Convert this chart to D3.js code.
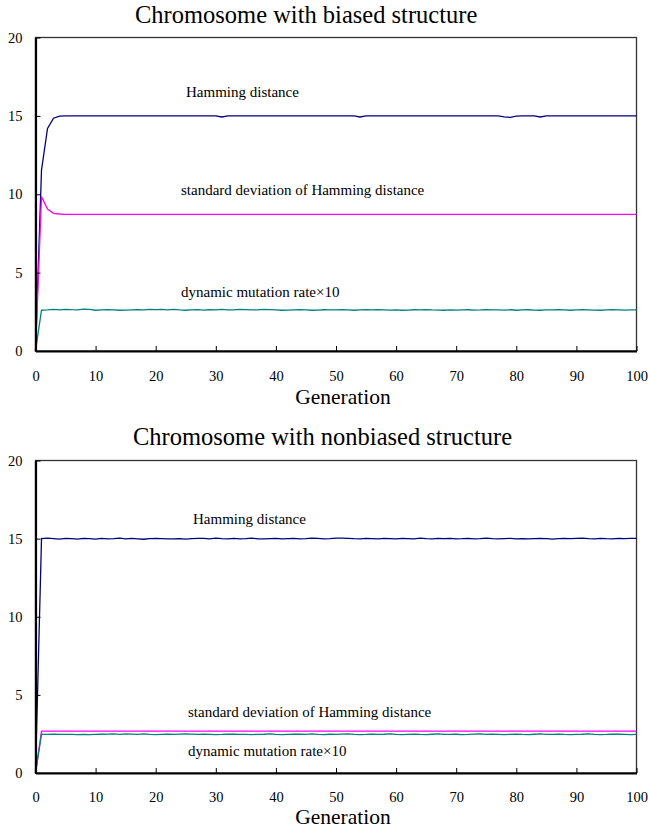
<!DOCTYPE html>
<html>
<head>
<meta charset="utf-8">
<script src="https://cdn.jsdelivr.net/npm/d3@7"></script>
<style>
html,body{margin:0;padding:0;background:#fff;}
text{font-family:"Liberation Serif","Times New Roman",serif;fill:#000;}
</style>
</head>
<body>
<svg id="chart" width="648" height="828"></svg>
<script>
// ---------- data ----------
const generations = d3.range(0, 101);
const xTicks = [0,10,20,30,40,50,60,70,80,90,100];
const yTicks = [0,5,10,15,20];
const titles = ["Chromosome with biased structure", "Chromosome with nonbiased structure"];
const seriesNames = ["Hamming distance", "standard deviation of Hamming distance", "dynamic mutation rate×10"];

const hammingBiased = [0,11.55,14.2,14.85,14.98,15,15,15,15,15,
  15,15,15,15,15,15,15,15,15,15,
  15,15,15,15,15,15,15,15,15,15,
  15,14.93,15,15,15,15,15,15,15,15,
  15,15,15,15,15,15,15,15,15,15,
  15,15,15,15,14.93,15,15,15,15,15,
  15,15,15,15,15,15,15,15,15,15,
  15,15,15,15,15,15,15,15,14.93,14.9,
  14.98,15,15,15,14.93,15,15,15,15,15,
  15,15,15,15,15,15,15,15,15,15,15];
const sdBiased = [0,9.85,9.05,8.78,8.74,8.72,8.72,8.72,8.72,8.72,
  8.72,8.72,8.72,8.72,8.72,8.72,8.72,8.72,8.72,8.72,
  8.72,8.72,8.72,8.72,8.72,8.72,8.72,8.72,8.72,8.72,
  8.72,8.72,8.72,8.72,8.72,8.72,8.72,8.72,8.72,8.72,
  8.72,8.72,8.72,8.72,8.72,8.72,8.72,8.72,8.72,8.72,
  8.72,8.72,8.72,8.72,8.72,8.72,8.72,8.72,8.72,8.72,
  8.72,8.72,8.72,8.72,8.72,8.72,8.72,8.72,8.72,8.72,
  8.72,8.72,8.72,8.72,8.72,8.72,8.72,8.72,8.72,8.72,
  8.72,8.72,8.72,8.72,8.72,8.72,8.72,8.72,8.72,8.72,
  8.72,8.72,8.72,8.72,8.72,8.72,8.72,8.72,8.72,8.72,8.72];
const mutationBiased = [0,2.6,2.62,2.65,2.63,2.66,2.64,2.63,2.67,2.65,
  2.6,2.62,2.63,2.62,2.6,2.61,2.63,2.64,2.62,2.66,
  2.64,2.66,2.63,2.65,2.62,2.6,2.62,2.64,2.61,2.63,
  2.62,2.65,2.63,2.62,2.66,2.64,2.62,2.63,2.65,2.64,
  2.62,2.6,2.61,2.62,2.63,2.62,2.6,2.61,2.63,2.62,
  2.62,2.63,2.62,2.6,2.62,2.64,2.62,2.63,2.62,2.61,
  2.62,2.6,2.61,2.63,2.62,2.64,2.62,2.61,2.6,2.62,
  2.61,2.62,2.63,2.61,2.62,2.64,2.63,2.62,2.61,2.63,
  2.6,2.62,2.63,2.61,2.6,2.62,2.62,2.64,2.62,2.6,
  2.62,2.63,2.62,2.61,2.6,2.62,2.63,2.62,2.61,2.62,2.62];

const hammingNonbiased = [0,15,15.03,15.0,14.97,15.02,15.0,14.97,15.02,15.0,
  14.97,15.02,14.99,15.0,15.03,14.98,15.02,14.99,14.96,15.0,
  15.02,15.0,14.98,14.99,15.0,14.97,15.0,15.02,15.01,14.98,
  15.03,15.0,14.99,15.02,14.98,15.0,15.03,14.99,14.98,15.0,
  15.02,14.98,15.0,15.02,14.99,15.0,15.03,15.02,14.99,15.0,
  15.03,15.03,15.02,15.0,14.99,15.02,15.0,14.98,15.01,15.0,
  14.99,15.02,15.0,14.98,15.03,15.0,14.98,15.01,15.0,15.02,
  14.99,15.0,15.02,14.98,15.0,15.03,15.0,14.98,15.0,15.02,
  14.99,15.0,14.98,15.0,15.02,15.0,14.97,15.0,15.02,15.0,
  15.02,15.03,15.0,14.98,15.02,15.0,14.99,15.02,15.0,15.01,15.02];
const sdNonbiased = [0,2.68,2.68,2.68,2.68,2.68,2.68,2.68,2.68,2.68,
  2.68,2.68,2.68,2.68,2.68,2.68,2.68,2.68,2.68,2.68,
  2.68,2.68,2.68,2.68,2.68,2.68,2.68,2.68,2.68,2.68,
  2.68,2.68,2.68,2.68,2.68,2.68,2.68,2.68,2.68,2.68,
  2.68,2.68,2.68,2.68,2.68,2.68,2.68,2.68,2.68,2.68,
  2.68,2.68,2.68,2.68,2.68,2.68,2.68,2.68,2.68,2.68,
  2.68,2.68,2.68,2.68,2.68,2.68,2.68,2.68,2.68,2.68,
  2.68,2.68,2.68,2.68,2.68,2.68,2.68,2.68,2.68,2.68,
  2.68,2.68,2.68,2.68,2.68,2.68,2.68,2.68,2.68,2.68,
  2.68,2.68,2.68,2.68,2.68,2.68,2.68,2.68,2.68,2.68,2.68];
const mutationNonbiased = [0,2.47,2.47,2.48,2.47,2.47,2.47,2.46,2.47,2.45,
  2.47,2.48,2.49,2.5,2.47,2.51,2.49,2.47,2.5,2.47,
  2.45,2.47,2.48,2.47,2.49,2.5,2.49,2.47,2.48,2.47,
  2.46,2.47,2.49,2.48,2.47,2.47,2.46,2.47,2.48,2.5,
  2.47,2.45,2.47,2.49,2.48,2.47,2.5,2.47,2.46,2.48,
  2.47,2.49,2.5,2.47,2.46,2.47,2.49,2.47,2.48,2.5,
  2.47,2.45,2.47,2.49,2.47,2.46,2.48,2.5,2.47,2.47,
  2.48,2.46,2.47,2.49,2.5,2.47,2.48,2.47,2.46,2.47,
  2.49,2.47,2.46,2.48,2.5,2.47,2.47,2.49,2.47,2.46,
  2.47,2.48,2.5,2.47,2.46,2.47,2.49,2.48,2.47,2.46,2.47];

const colors = ["#000080", "#FF00FF", "#008080"];

// ---------- drawing ----------
const svg = d3.select("#chart");
const FONT = "Liberation Serif, Times New Roman, serif";

const panels = [
  {title: titles[0], titleX: 135, top: 37.5, bottom: 351, titleY: 23, tickY: 381, genY: 404,
   series: [hammingBiased, sdBiased, mutationBiased],
   labels: [{x:186,y:97},{x:181,y:195},{x:181,y:297}]},
  {title: titles[1], titleX: 133, top: 460.5, bottom: 773, titleY: 445, tickY: 802, genY: 824,
   series: [hammingNonbiased, sdNonbiased, mutationNonbiased],
   labels: [{x:193,y:524},{x:188,y:717},{x:188,y:756}]}
];

const left = 35.5, right = 636.5;

panels.forEach(p => {
  const x = d3.scaleLinear().domain([0,100]).range([left, right]);
  const y = d3.scaleLinear().domain([0,20]).range([p.bottom, p.top]);
  const g = svg.append("g");

  // title
  g.append("text").attr("x", p.titleX).attr("y", p.titleY)
    .attr("font-family", FONT).style("font-size","24.5px").text(p.title);

  // frame
  g.append("rect").attr("x", left).attr("y", p.top)
    .attr("width", right-left).attr("height", p.bottom-p.top)
    .attr("fill","none").attr("stroke","#333").attr("stroke-width",1.3);

  // series
  const line = d3.line().x((d,i)=>x(generations[i])).y(d=>y(d));
  p.series.forEach((s,k) => {
    g.append("path").datum(s).attr("d", line)
      .attr("fill","none").attr("stroke", colors[k]).attr("stroke-width",1.3);
  });

  // axes
  const xa = g.append("g").attr("transform",`translate(0,${p.bottom})`)
    .call(d3.axisBottom(x).tickValues(xTicks).tickSizeInner(-5).tickSizeOuter(0).tickPadding(0));
  xa.attr("font-family", FONT);
  xa.select(".domain").attr("stroke","#000").attr("stroke-width",2.2);
  xa.selectAll(".tick line").attr("stroke","#000").attr("stroke-width",1);
  xa.selectAll("text").attr("y", p.tickY - p.bottom).attr("dy", 0)
    .attr("font-family", FONT).style("font-size","14.5px");

  const ya = g.append("g").attr("transform",`translate(${left},0)`)
    .call(d3.axisLeft(y).tickValues(yTicks).tickSizeInner(-5).tickSizeOuter(0).tickPadding(13));
  ya.attr("font-family", FONT);
  ya.select(".domain").attr("stroke","#000").attr("stroke-width",2.2);
  ya.selectAll(".tick line").attr("stroke","#000").attr("stroke-width",1);
  ya.selectAll("text").attr("font-family", FONT).style("font-size","14.5px");

  // x title
  g.append("text").attr("x", 343).attr("y", p.genY)
    .attr("text-anchor","middle").attr("font-family", FONT)
    .style("font-size","21.5px").text("Generation");

  // series labels
  p.labels.forEach((l,k) => {
    g.append("text").attr("x", l.x).attr("y", l.y)
      .attr("font-family", FONT).style("font-size","15px").text(seriesNames[k]);
  });
});
</script>
</body>
</html>
